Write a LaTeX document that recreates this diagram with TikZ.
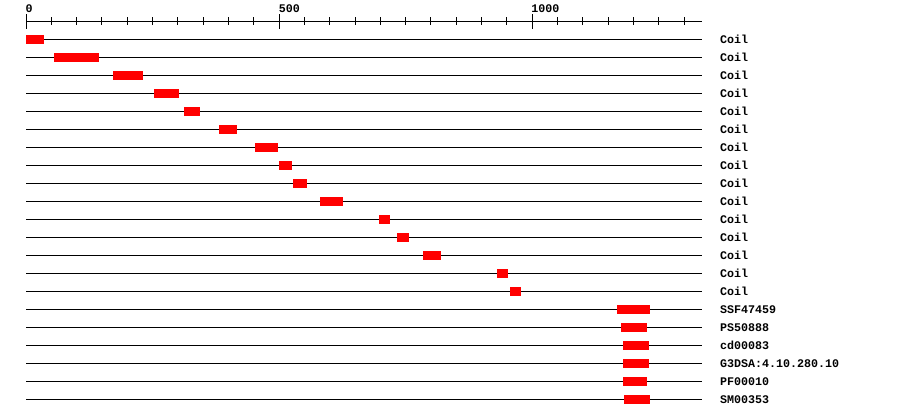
\documentclass[tikz,border=0pt]{standalone}
\usepackage{fontspec}
\newfontfamily\lblfont{Liberation Mono}
\definecolor{barred}{RGB}{255,0,0}
\tikzset{
  rowline/.style={line width=1pt, black},
  axisline/.style={line width=1.1pt, black},
  tickline/.style={line width=1pt, black},
  featbar/.style={fill=barred, draw=none},
  lbl/.style={anchor=base west, inner sep=0pt, font=\lblfont\bfseries\fontsize{11.67}{12}\selectfont},
}
\begin{document}
\begin{tikzpicture}[x=1pt,y=-1pt]
\useasboundingbox (0,0) rectangle (900,418);
\fill[white] (0,0) rectangle (900,418);
% axis
\draw[axisline] (26,21.5) -- (702,21.5);
\foreach \k in {0,...,26}{
  \pgfmathsetmacro{\tx}{26+25.31*\k}
  \pgfmathtruncatemacro{\m}{mod(\k,10)}
  \ifnum\m=0
    \draw[tickline] (\tx,14) -- (\tx,29);
  \else
    \draw[tickline] (\tx,17.3) -- (\tx,25.3);
  \fi
}
\node[lbl] (ax0) at (25.5,12) {0};
\node[lbl] (ax500) at (278.6,12) {500};
\node[lbl] (ax1000) at (531.2,12) {1000};
% rows
\foreach \a/\b/\t [count=\i from 0] in {
  26/44/Coil, 54/99/Coil, 113/143/Coil, 154/179/Coil, 184/200/Coil,
  219/237/Coil, 255/278/Coil, 279/292/Coil, 293/307/Coil, 320/343/Coil,
  379/390/Coil, 397/409/Coil, 423/441/Coil, 497/508/Coil, 510/521/Coil,
  617/650/SSF47459, 621/647/PS50888, 623/649/cd00083,
  623/649/G3DSA:4.10.280.10, 623/647/PF00010, 624/650/SM00353}{
  \pgfmathsetmacro{\ry}{39.5+18*\i}
  \draw[rowline] (26,\ry) -- (702,\ry);
  \fill[featbar] (\a,\ry-4.5) rectangle (\b,\ry+4.5);
  \node[lbl] (lab\i) at (720,\ry+3.6) {\t};
}
\end{tikzpicture}
\end{document}
